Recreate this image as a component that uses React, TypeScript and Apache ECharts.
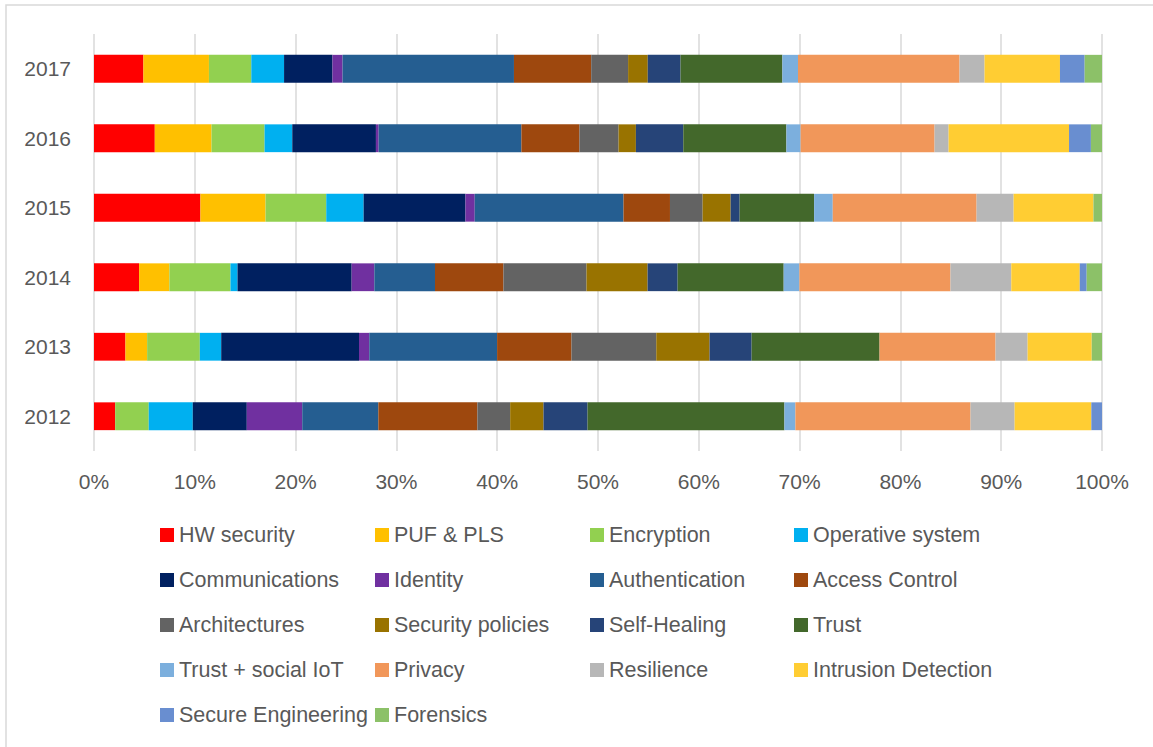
import React, { useEffect, useRef } from "react";
import * as echarts from "echarts";

const years = ["2012", "2013", "2014", "2015", "2016", "2017"];
const xTicksMax = 100;

const hwSecurity = [2.1, 3.12, 4.47, 10.56, 6.03, 4.9];
const pufPls = [0, 2.15, 3.01, 6.46, 5.63, 6.5];
const encryption = [3.33, 5.23, 6.06, 6.02, 5.26, 4.2];
const operativeSystem = [4.37, 2.12, 0.7, 3.71, 2.75, 3.25];
const communications = [5.36, 13.67, 11.32, 10.1, 8.3, 4.8];
const identity = [5.5, 1.02, 2.25, 0.92, 0.27, 1.0];
const authentication = [7.55, 12.68, 6.02, 14.76, 14.16, 17.0];
const accessControl = [9.83, 7.38, 6.79, 4.61, 5.76, 7.66];
const architectures = [3.25, 8.41, 8.24, 3.24, 3.88, 3.66];
const securityPolicies = [3.31, 5.29, 6.06, 2.78, 1.72, 1.95];
const selfHealing = [4.37, 4.17, 2.98, 0.89, 4.7, 3.25];
const trust = [19.53, 12.69, 10.52, 7.39, 10.23, 10.1];
const trustSocialIoT = [1.09, 0, 1.56, 1.85, 1.41, 1.55];
const privacy = [17.38, 11.51, 14.99, 14.27, 13.29, 16.02];
const resilience = [4.37, 3.18, 6.03, 3.67, 1.39, 2.48];
const intrusionDetection = [7.61, 6.36, 6.79, 7.92, 11.95, 7.48];
const secureEngineering = [1.06, 0, 0.69, 0, 2.17, 2.45];
const forensics = [0, 1.02, 1.52, 0.85, 1.1, 1.72];

const seriesDefs: { name: string; data: number[]; color: string }[] = [
  { name: "HW security", data: hwSecurity, color: "#FF0000" },
  { name: "PUF & PLS", data: pufPls, color: "#FFC000" },
  { name: "Encryption", data: encryption, color: "#92D050" },
  { name: "Operative system", data: operativeSystem, color: "#00B0F0" },
  { name: "Communications", data: communications, color: "#002060" },
  { name: "Identity", data: identity, color: "#7030A0" },
  { name: "Authentication", data: authentication, color: "#255E91" },
  { name: "Access Control", data: accessControl, color: "#9E480E" },
  { name: "Architectures", data: architectures, color: "#636363" },
  { name: "Security policies", data: securityPolicies, color: "#997300" },
  { name: "Self-Healing", data: selfHealing, color: "#264478" },
  { name: "Trust", data: trust, color: "#43682B" },
  { name: "Trust + social IoT", data: trustSocialIoT, color: "#7CAFDD" },
  { name: "Privacy", data: privacy, color: "#F1975A" },
  { name: "Resilience", data: resilience, color: "#B7B7B7" },
  { name: "Intrusion Detection", data: intrusionDetection, color: "#FFCD33" },
  { name: "Secure Engineering", data: secureEngineering, color: "#698ED0" },
  { name: "Forensics", data: forensics, color: "#8CC168" },
];

const legendColumns = [
  ["HW security", "Communications", "Architectures", "Trust + social IoT", "Secure Engineering"],
  ["PUF & PLS", "Identity", "Security policies", "Privacy", "Forensics"],
  ["Encryption", "Authentication", "Self-Healing", "Resilience"],
  ["Operative system", "Access Control", "Trust", "Intrusion Detection"],
];
const legendLefts = [160, 375, 590, 794];

const FONT = "'Liberation Sans', Arial, sans-serif";
const TEXT = "#595959";

export default function App() {
  const ref = useRef<HTMLDivElement>(null);
  useEffect(() => {
    if (!ref.current) return;
    const chart = echarts.init(ref.current, null, { renderer: "svg" });
    const totals = years.map((_, i) =>
      seriesDefs.reduce((s, d) => s + d.data[i], 0)
    );
    const series = seriesDefs.map((d) => ({
      name: d.name,
      type: "bar",
      stack: "total",
      barCategoryGap: "60%",
      itemStyle: { color: d.color },
      emphasis: { disabled: true },
      data: d.data.map((v, i) => (v / totals[i]) * 100),
    }));
    chart.setOption({
      animation: false,
      backgroundColor: "#ffffff",
      textStyle: { fontFamily: FONT },
      grid: { left: 94, right: 51, top: 34, bottom: 296, containLabel: false },
      xAxis: {
        type: "value",
        min: 0,
        max: xTicksMax,
        interval: 10,
        axisLine: { show: false },
        axisTick: { show: false },
        splitLine: { show: true, lineStyle: { color: "#d9d9d9", width: 1.5 } },
        axisLabel: {
          formatter: "{value}%",
          color: TEXT,
          fontSize: 21,
          fontFamily: FONT,
          margin: 20,
        },
      },
      yAxis: {
        type: "category",
        data: years,
        axisLine: { show: false },
        axisTick: { show: false },
        splitLine: { show: false },
        axisLabel: { color: TEXT, fontSize: 21, fontFamily: FONT, margin: 23 },
      },
      legend: legendColumns.map((col, k) => ({
        orient: "vertical",
        left: legendLefts[k],
        top: 523,
        padding: 0,
        itemGap: 21,
        itemWidth: 14,
        itemHeight: 14,
        icon: "rect",
        selectedMode: false,
        data: col,
        textStyle: { color: TEXT, fontSize: 21.5, fontFamily: FONT, lineHeight: 24 },
      })),
      graphic: [
        {
          type: "polyline",
          shape: { points: [[6, 747], [6, 5], [1153, 5]] },
          style: { fill: "none", stroke: "#d9d9d9", lineWidth: 1.5 },
          silent: true,
        },
      ],
      series,
    });
    return () => chart.dispose();
  }, []);
  return (
    <div
      ref={ref}
      style={{ position: "absolute", left: 0, top: 0, width: 1153, height: 747 }}
    />
  );
}
